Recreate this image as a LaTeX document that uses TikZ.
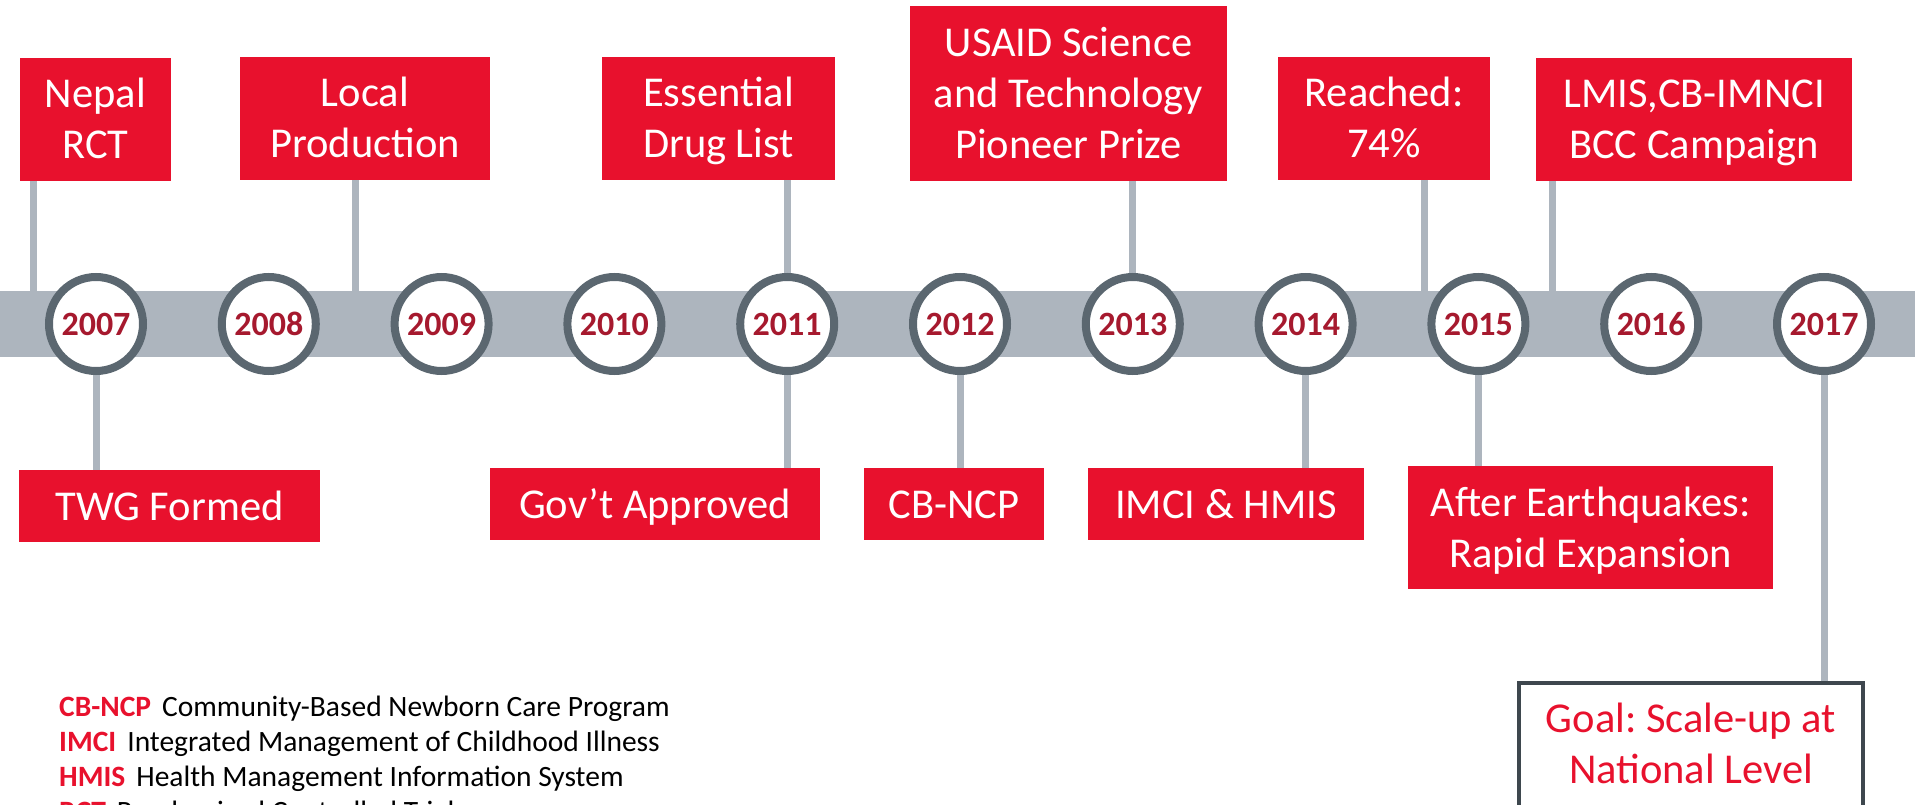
\documentclass[tikz,border=0pt]{standalone}
\usepackage{fontspec}
\setmainfont{Carlito}
\frenchspacing
\definecolor{boxred}{HTML}{E8112D}
\definecolor{bandgray}{HTML}{ADB5BE}
\definecolor{ringgray}{HTML}{5B6770}
\definecolor{yearred}{HTML}{A6192E}
\definecolor{goalborder}{HTML}{3E474E}
\newcommand\ls{\rule[-11.5pt]{0pt}{51pt}}
\begin{document}
\begin{tikzpicture}[x=1pt,y=-1pt,
  evbox/.style={fill=boxred, text=white, inner sep=0pt, align=center,
    font=\fontsize{42.5}{51}\selectfont},
  yr/.style={circle, draw=ringgray, line width=8pt, fill=white, minimum size=94pt,
    inner sep=0pt, text=yearred, font=\fontsize{34}{38}\selectfont\bfseries},
  conn/.style={draw=bandgray, line width=7pt},
  legline/.style={anchor=base west, inner sep=0pt, font=\fontsize{29.5}{34}\selectfont}]
\useasboundingbox (0,0) rectangle (1915,805);
\clip (0,0) rectangle (1915,805);
% band
\node[fill=bandgray, minimum width=1915pt, minimum height=66pt, inner sep=0pt,
  anchor=north west] (band) at (0,291) {};
% event boxes (top)
\node[evbox, minimum width=151pt, minimum height=123pt] (nepal) at (95.5,119.5) {Nepal\ls\\RCT\ls};
\node[evbox, minimum width=250pt, minimum height=123pt] (local) at (365,118.5) {Local\ls\\Production\ls};
\node[evbox, minimum width=233pt, minimum height=123pt] (essential) at (718.5,118.5) {Essential\ls\\Drug List\ls};
\node[evbox, minimum width=317pt, minimum height=175pt] (usaid) at (1068.5,93.5) {USAID Science\ls\\and Technology\ls\\Pioneer Prize\ls};
\node[evbox, minimum width=212pt, minimum height=123pt] (reached) at (1384,118.5) {Reached:\ls\\74\%\ls};
\node[evbox, minimum width=316pt, minimum height=123pt] (lmis) at (1694,119.5) {LMIS,CB-IMNCI\ls\\BCC Campaign\ls};
% event boxes (bottom)
\node[evbox, minimum width=301pt, minimum height=72pt] (twg) at (169.5,506) {TWG Formed\ls};
\node[evbox, minimum width=330pt, minimum height=72pt] (govt) at (655,504) {Gov’t Approved\ls};
\node[evbox, minimum width=180pt, minimum height=72pt] (cbncp) at (954,504) {CB-NCP\ls};
\node[evbox, minimum width=276pt, minimum height=72pt] (imci) at (1226,504) {IMCI \& HMIS\ls};
\node[evbox, minimum width=365pt, minimum height=123pt] (after) at (1590.5,527.5) {After Earthquakes:\ls\\Rapid Expansion\ls};
\node[draw=goalborder, line width=3.5pt, fill=white, text=boxred, align=center,
  inner sep=0pt, minimum width=344pt, minimum height=150pt,
  font=\fontsize{42.5}{51}\selectfont] (goal) at (1691,758)
  {Goal: Scale-up at\ls\\National Level\rule[-40.5pt]{0pt}{80pt}};
% year positions
\foreach \yy [count=\i from 0] in {2007,2008,2009,2010,2011,2012,2013,2014,2015,2016,2017}
  \coordinate (p\yy) at (96+172.8*\i,324);
% connectors
\coordinate (c1) at (33,0);
\coordinate (c2) at (355,0);
\coordinate (c3) at (1424,0);
\coordinate (c4) at (1552,0);
\draw[conn] (nepal.south -| c1) -- (band.north -| c1);
\draw[conn] (local.south -| c2) -- (band.north -| c2);
\draw[conn] (reached.south -| c3) -- (band.north -| c3);
\draw[conn] (lmis.south -| c4) -- (band.north -| c4);
\draw[conn] (essential.south -| p2011) -- (p2011);
\draw[conn] (usaid.south -| p2013) -- (p2013);
\draw[conn] (p2007) -- (twg.north -| p2007);
\draw[conn] (p2011) -- (govt.north -| p2011);
\draw[conn] (p2012) -- (cbncp.north -| p2012);
\draw[conn] (p2014) -- (imci.north -| p2014);
\draw[conn] (p2015) -- (after.north -| p2015);
\draw[conn] (p2017) -- (goal.north -| p2017);
% year circles
\foreach \yy in {2007,2008,2009,2010,2011,2012,2013,2014,2015,2016,2017}
  \node[yr] (y\yy) at (p\yy) {\yy};
% legend
\node[legline] (leg1) at (59,716) {\textcolor{boxred}{\bfseries CB-NCP}\hspace{11pt}Community-Based Newborn Care Program};
\node[legline] (leg2) at (59,751) {\textcolor{boxred}{\bfseries IMCI}\hspace{11pt}Integrated Management of Childhood Illness};
\node[legline] (leg3) at (59,786) {\textcolor{boxred}{\bfseries HMIS}\hspace{11pt}Health Management Information System};
\node[legline] (leg4) at (59,821) {\textcolor{boxred}{\bfseries RCT}\hspace{11pt}Randomized Controlled Trial};
\end{tikzpicture}
\end{document}
